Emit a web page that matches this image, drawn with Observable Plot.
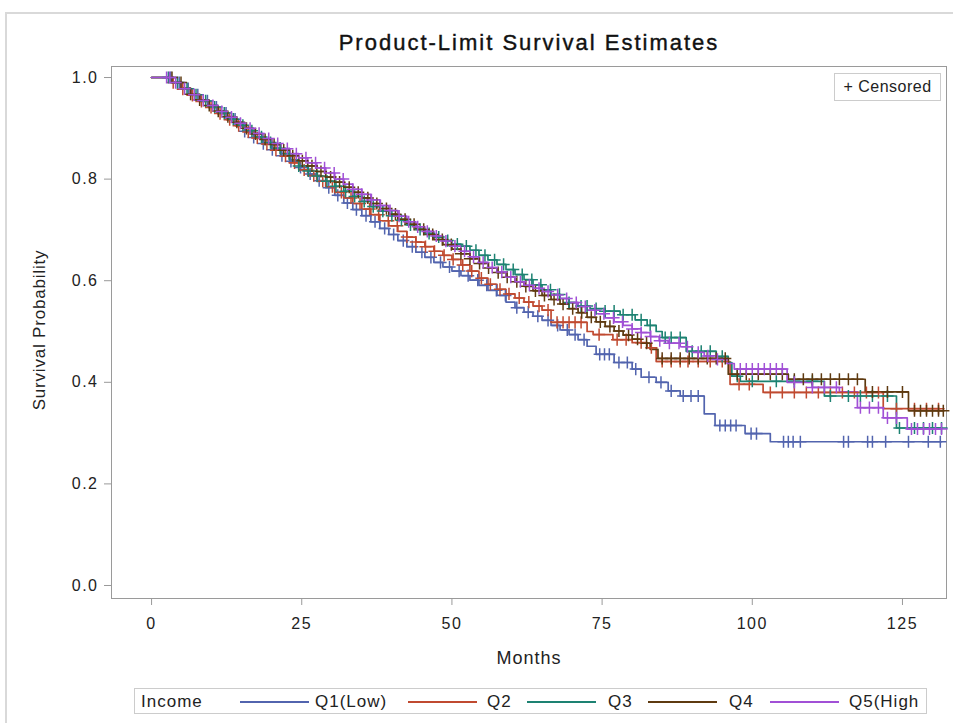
<!DOCTYPE html>
<html><head><meta charset="utf-8">
<script src="https://cdn.jsdelivr.net/npm/d3@7"></script>
<script src="https://cdn.jsdelivr.net/npm/@observablehq/plot@0.6"></script>
<style>
body{margin:0;background:#fff;font-family:"Liberation Sans",Arial,sans-serif;color:#222;}
#wrap{position:relative;width:953px;height:723px;overflow:hidden;}
#outer{position:absolute;left:5px;top:12px;width:960px;height:720px;border:2px solid #d9d9d9;box-sizing:border-box;}
#chart{position:absolute;left:0;top:0;}
#chart svg{overflow:visible;}
#chart text{letter-spacing:1.5px;fill:#222;}
#chart g[aria-label$="tick"] path{stroke:#999;}
#title{position:absolute;left:112px;width:834px;top:30px;text-align:center;font-size:22px;font-weight:normal;color:#111;letter-spacing:2px;-webkit-text-stroke:0.4px #111;}
#ylab{position:absolute;left:40px;top:330px;transform:translate(-50%,-50%) rotate(-90deg);font-size:17px;letter-spacing:0.8px;white-space:nowrap;}
#xlab{position:absolute;left:112px;width:834px;top:648px;text-align:center;font-size:18px;letter-spacing:1px;}
#cens{position:absolute;left:834px;top:73px;width:107px;height:28px;border:1px solid #ccc;box-sizing:border-box;font-size:16px;line-height:26px;text-align:center;letter-spacing:0.5px;background:#fff;}
#legend{position:absolute;left:134px;top:688px;width:793px;height:26px;border:1px solid #ccc;box-sizing:border-box;}
.lg{position:absolute;top:4px;font-size:17px;letter-spacing:1px;line-height:18px;white-space:nowrap;}
.sw{position:absolute;top:12px;height:2px;}
</style></head><body>
<div id="wrap">
 <div id="outer"></div>
 <div id="chart"></div>
 <div id="title">Product-Limit Survival Estimates</div>
 <div id="ylab">Survival Probability</div>
 <div id="xlab">Months</div>
 <div id="cens">+ Censored</div>
 <div id="legend"></div>
</div>
<script>
// ---- data ----
const groups = ["Q1(Low)", "Q2", "Q3", "Q4", "Q5(High"];
const colors = ["#5264ae", "#c04a30", "#1d8272", "#5e3a10", "#a150d6"];
const xTicks = [0, 25, 50, 75, 100, 125];
const yTicks = [0, 0.2, 0.4, 0.6, 0.8, 1.0];
const endTimes = [131.5, 131.2, 131.5, 131.8, 131.5];

const q1Steps = [[0,1],[3.5,0.99],[5,0.978],[6.5,0.966],[8,0.954],[9.5,0.942],[11,0.93],[12.5,0.918],[14,0.906],[15.5,0.894],[17,0.882],[18.5,0.87],[20,0.858],[21.5,0.846],[23,0.835],[24.5,0.823],[26,0.81],[27.5,0.797],[29,0.783],[30.5,0.768],[32,0.753],[33.5,0.74],[35,0.728],[36.5,0.716],[38,0.703],[39.5,0.691],[41,0.679],[42.5,0.667],[44,0.656],[45.5,0.646],[47,0.636],[48.5,0.627],[50,0.619],[51.5,0.61],[53,0.601],[54.5,0.591],[56,0.581],[57.5,0.571],[59,0.558],[60.5,0.547],[62,0.538],[63.5,0.53],[65,0.522],[66.5,0.512],[68,0.503],[69.5,0.494],[71,0.484],[72.5,0.471],[74,0.455],[77,0.439],[80,0.426],[81.5,0.41],[84,0.40],[86,0.383],[88,0.373],[92,0.338],[93.8,0.315],[98.8,0.299],[103,0.283]];
const q2Steps = [[0,1],[3.5,0.99],[5,0.977],[6.5,0.965],[8,0.953],[9.5,0.941],[11,0.929],[12.5,0.917],[14,0.905],[15.5,0.893],[17,0.881],[18.5,0.869],[20,0.857],[21.5,0.845],[23,0.832],[24.5,0.818],[26,0.807],[27.5,0.796],[29,0.785],[30.5,0.774],[32,0.763],[33.5,0.752],[35,0.741],[36.5,0.73],[38,0.718],[39.5,0.708],[41,0.697],[42.5,0.686],[44,0.676],[45.5,0.667],[47,0.658],[48.5,0.65],[50,0.642],[51.5,0.631],[53,0.619],[54.5,0.605],[56,0.593],[57.5,0.583],[59,0.574],[60.5,0.566],[62,0.558],[63.5,0.55],[65,0.542],[66.5,0.518],[72.5,0.5],[73.5,0.494],[76.8,0.484],[80,0.478],[82.5,0.468],[84,0.441],[96.3,0.396],[101.8,0.38],[121.8,0.348]];
const q3Steps = [[0,1],[3.5,0.99],[5,0.978],[6.5,0.966],[8,0.954],[9.5,0.942],[11,0.93],[12.5,0.918],[14,0.906],[15.5,0.895],[17,0.883],[18.5,0.872],[20,0.861],[21.5,0.85],[23,0.838],[24.5,0.826],[26,0.816],[27.5,0.806],[29,0.796],[30.5,0.786],[32,0.776],[33.5,0.766],[35,0.756],[36.5,0.746],[38,0.737],[39.5,0.728],[41,0.719],[42.5,0.71],[44,0.701],[45.5,0.693],[47,0.686],[48.5,0.679],[50,0.672],[51.5,0.668],[53,0.66],[54.5,0.65],[56,0.641],[57.5,0.632],[59,0.622],[60.5,0.612],[62,0.602],[63.5,0.592],[65,0.582],[66.5,0.573],[68,0.565],[69.5,0.557],[71,0.55],[73,0.545],[75.5,0.54],[78,0.533],[80.5,0.523],[82.5,0.512],[84,0.5],[85,0.488],[89,0.461],[94,0.451],[96,0.439],[96.6,0.412],[98,0.402],[112,0.373],[124,0.31]];
const q4Steps = [[0,1],[3.5,0.99],[5,0.979],[6.5,0.967],[8,0.956],[9.5,0.945],[11,0.934],[12.5,0.923],[14,0.912],[15.5,0.9],[17,0.889],[18.5,0.878],[20,0.868],[21.5,0.857],[23,0.846],[24.5,0.836],[26,0.826],[27.5,0.815],[29,0.804],[30.5,0.794],[32,0.784],[33.5,0.774],[35,0.763],[36.5,0.752],[38,0.742],[39.5,0.731],[41,0.721],[42.5,0.711],[44,0.701],[45.5,0.691],[47,0.681],[48.5,0.671],[50,0.662],[51.5,0.653],[53,0.643],[54.5,0.634],[56,0.625],[57.5,0.616],[59,0.607],[60.5,0.598],[62,0.589],[63.5,0.58],[65,0.571],[66.5,0.563],[68,0.554],[69.5,0.545],[71,0.537],[72.5,0.528],[74,0.519],[75.5,0.51],[77,0.501],[78.5,0.493],[80,0.485],[81.5,0.477],[83,0.465],[84.3,0.447],[96,0.416],[106,0.406],[118.8,0.381],[126,0.344]];
const q5Steps = [[0,1],[3.5,0.99],[5,0.978],[6.5,0.966],[8,0.955],[9.5,0.945],[11,0.933],[12.5,0.922],[14,0.91],[15.5,0.9],[17,0.89],[18.5,0.88],[20,0.87],[21.5,0.86],[23,0.85],[24.5,0.842],[26,0.832],[27.5,0.822],[29,0.812],[30.5,0.8],[32,0.79],[33.5,0.78],[35,0.77],[36.5,0.759],[38,0.748],[39.5,0.738],[41,0.727],[42.5,0.716],[44,0.706],[45.5,0.697],[47,0.688],[48.5,0.678],[50,0.668],[51.5,0.658],[53,0.647],[54.5,0.636],[56,0.626],[57.5,0.617],[59,0.607],[60.5,0.598],[62,0.591],[63.5,0.585],[65,0.579],[66.5,0.572],[68,0.565],[69.5,0.557],[71,0.549],[72.5,0.542],[74,0.535],[75.5,0.527],[77,0.519],[78.5,0.512],[80,0.505],[81.5,0.498],[83,0.49],[84.5,0.482],[86,0.477],[88,0.47],[90,0.459],[92,0.452],[94,0.445],[95.8,0.437],[97,0.426],[105.8,0.40],[110,0.39],[114.5,0.381],[117.5,0.35],[121.8,0.33],[125.8,0.308]];

const q1Censor = [3.2,4.6,6.1,7.7,9.3,10.8,12.4,13.9,15.5,17.0,18.6,20.1,21.7,23.2,24.8,26.4,27.9,29.5,31.0,32.6,34.1,35.7,37.2,38.8,40.3,41.9,43.4,45.0,46.5,48.1,49.6,51.2,52.7,54.3,55.8,57.4,58.9,60.8,62.7,64.3,66.0,67.6,69.2,70.5,72.0,74.6,75.4,76.2,77.8,79.2,80.6,82.8,84.8,86.5,88.5,89.8,91.0,94.6,95.5,96.4,97.3,99.8,100.7,105.2,106.0,106.8,108.0,115.2,116.0,119.2,120.0,122.2,126.0,129.3,131.3];
const q2Censor = [3.6,5.2,6.8,8.3,9.9,11.4,13.0,14.5,16.1,17.6,19.2,20.7,22.3,23.8,25.4,27.0,28.5,30.1,31.6,33.2,34.7,36.3,37.8,39.4,40.9,42.5,44.0,45.6,47.1,48.7,50.2,51.8,53.3,54.9,56.4,58.0,59.5,61.2,62.8,64.5,66.0,67.5,68.5,69.5,70.5,71.5,74.5,77.5,79.0,81.5,83.2,85.0,86.5,88.0,89.3,91.0,93.0,95.0,97.8,99.5,103.0,105.0,107.0,109.0,111.0,113.0,115.0,117.0,119.0,121.0,124.0,127.0,129.0,131.0];
const q3Censor = [2.8,4.3,5.9,7.4,9.0,10.5,12.1,13.6,15.2,16.7,18.3,19.8,21.4,22.9,24.5,26.1,27.6,29.2,30.7,32.3,33.8,35.4,36.9,38.5,40.0,41.6,43.1,44.7,46.2,47.8,49.3,50.9,52.4,54.0,55.5,57.1,58.6,60.2,61.7,63.3,64.8,66.4,67.9,69.5,71.5,72.5,74.0,75.5,77.0,78.5,80.0,81.5,83.0,85.5,86.5,88.0,90.0,91.5,93.0,95.0,97.5,100.0,104.0,107.0,110.0,113.0,116.0,118.0,120.0,122.5,124.5,127.0,128.5,130.0,131.5];
const q4Censor = [3.4,4.9,6.5,8.0,9.6,11.1,12.7,14.2,15.8,17.3,18.9,20.4,22.0,23.5,25.1,26.7,28.2,29.8,31.3,32.9,34.4,36.0,37.5,39.1,40.6,42.2,43.7,45.3,46.8,48.4,49.9,51.5,53.0,54.6,56.1,57.7,59.2,60.8,62.3,63.9,65.4,67.0,68.5,70.1,71.6,73.2,74.7,76.3,77.8,79.4,80.9,82.4,85.0,86.5,88.0,89.5,91.0,92.5,94.0,95.5,97.5,99.0,101.0,103.0,105.0,107.0,108.5,110.0,111.5,113.0,114.5,116.0,117.5,120.0,122.5,125.0,127.0,128.0,129.0,130.0,131.0,131.8];
const q5Censor = [2.5,3.0,4.0,5.5,7.1,8.6,10.2,11.7,13.3,14.8,16.4,17.9,19.5,21.0,22.6,24.1,25.7,27.3,28.8,30.4,31.9,33.5,35.0,36.6,38.1,39.7,41.2,42.8,44.3,45.9,47.4,49.0,50.5,52.1,53.6,55.2,56.7,58.3,59.8,61.4,62.9,64.5,66.0,67.6,69.1,70.7,72.2,73.8,75.3,76.9,78.4,80.0,81.5,83.1,84.6,86.2,87.8,89.2,91.0,92.6,94.2,98.0,99.0,100.0,101.0,102.0,103.0,104.0,105.0,107.0,110.0,112.0,114.0,118.0,119.5,121.0,122.5,124.0,126.5,127.5,128.5,129.5,130.5,131.5];

// ---- build tables ----
const allSteps = [q1Steps, q2Steps, q3Steps, q4Steps, q5Steps];
const allCensor = [q1Censor, q2Censor, q3Censor, q4Censor, q5Censor];
const lineRows = [];
const censorRows = [];
const bis = d3.bisector(d => d[0]).right;
allSteps.forEach((steps, i) => {
  const g = groups[i];
  steps.forEach(([t, s]) => lineRows.push({g, t, s}));
  lineRows.push({g, t: endTimes[i], s: steps[steps.length - 1][1]});
  allCensor[i].forEach(t => {
    const k = Math.max(0, bis(steps, t) - 1);
    censorRows.push({g, t, s: steps[k][1]});
  });
});

const chart = Plot.plot({
  width: 953,
  height: 723,
  marginTop: 66,
  marginBottom: 125,
  marginLeft: 111,
  marginRight: 7,
  style: {fontSize: "16px", fontFamily: "'Liberation Sans', Arial, sans-serif", background: "transparent", color: "#222"},
  x: {domain: [-6.67, 132.33], ticks: xTicks, tickSize: 7, tickPadding: 12, label: null},
  y: {domain: [-0.0256, 1.0217], ticks: yTicks, tickFormat: d3.format(".1f"), tickSize: 7, tickPadding: 6, label: null},
  color: {domain: groups, range: colors},
  marks: [
    Plot.frame({stroke: "#9a9a9a"}),
    Plot.line(lineRows, {x: "t", y: "s", z: "g", stroke: "g", curve: "step-after", strokeWidth: 1.7}),
    Plot.dot(censorRows, {x: "t", y: "s", stroke: "g", symbol: "plus", r: 4, strokeWidth: 1.5})
  ]
});
document.getElementById("chart").appendChild(chart);

// legend
const lg = document.getElementById("legend");
const addText = (txt, left) => { const d = document.createElement("div"); d.className = "lg"; d.style.left = left + "px"; d.textContent = txt; lg.appendChild(d); };
addText("Income", 6);
const swLeft = [105, 273, 392, 513, 635];
const txLeft = [180, 352, 473, 594, 714];
groups.forEach((g, i) => {
  const s = document.createElement("div"); s.className = "sw";
  s.style.left = swLeft[i] + "px"; s.style.width = "69px"; s.style.background = colors[i];
  lg.appendChild(s);
  addText(g, txLeft[i]);
});
</script>
</body></html>
